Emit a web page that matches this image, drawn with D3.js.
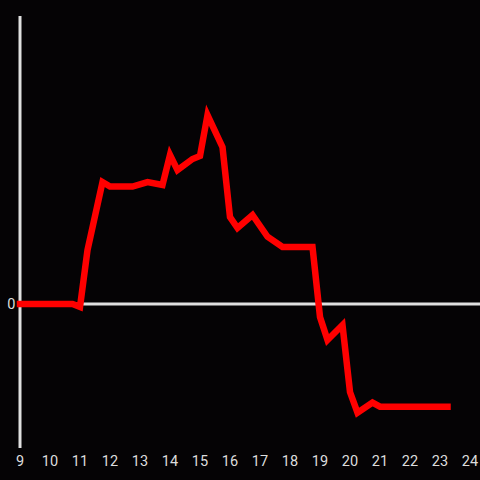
<!DOCTYPE html>
<html>
<head>
<meta charset="utf-8">
<script src="https://cdn.jsdelivr.net/npm/d3@7"></script>
<style>
  html, body { margin: 0; padding: 0; background: #050305; }
  svg { display: block; }
</style>
</head>
<body>
<div id="chart"></div>
<script>
// Data (hours of day vs. value)
const hours = [9, 10.75, 11, 11.25, 11.75, 12, 12.75, 13.25, 13.75, 14, 14.25, 14.75, 15, 15.25,
  15.75, 16, 16.25, 16.75, 17.25, 17.75, 18.75, 19, 19.25, 19.75, 20, 20.25, 20.75, 21, 23.25];
const values = [0, 0, -0.02, 0.375, 0.847, 0.816, 0.816, 0.847, 0.826, 1.035, 0.93, 1.007, 1.028, 1.3125,
  1.09, 0.604, 0.528, 0.618, 0.467, 0.396, 0.396, -0.09, -0.25, -0.146, -0.611, -0.755, -0.685, -0.713, -0.713];
const xTicks = [9, 10, 11, 12, 13, 14, 15, 16, 17, 18, 19, 20, 21, 22, 23, 24];
const yTicks = [0];

const width = 480, height = 480;
const axisColor = "#e0e0e0";
const lineColor = "#ff0000";

const svg = d3.select("#chart").append("svg")
  .attr("width", width)
  .attr("height", height);

svg.append("rect").attr("width", width).attr("height", height).attr("fill", "#050305");

const x = d3.scaleLinear().domain([9, 24]).range([20, 470]);
const y = d3.scaleLinear().domain([-1, 2]).range([448, 16]);

// zero line
svg.append("line")
  .attr("x1", x(9)).attr("x2", width)
  .attr("y1", y(0)).attr("y2", y(0))
  .attr("stroke", axisColor).attr("stroke-width", 3);

// y axis line
svg.append("line")
  .attr("x1", x(9)).attr("x2", x(9))
  .attr("y1", y(2)).attr("y2", y(-1))
  .attr("stroke", axisColor).attr("stroke-width", 3);

// x tick labels
svg.append("g")
  .selectAll("text").data(xTicks).enter().append("text")
  .attr("x", d => x(d))
  .attr("y", 466)
  .attr("text-anchor", "middle")
  .attr("font-family", "Roboto, 'Liberation Sans', sans-serif")
  .attr("font-size", "14.5px")
  .attr("fill", "#dddddd")
  .text(d => d);

// y tick labels
svg.append("g")
  .selectAll("text").data(yTicks).enter().append("text")
  .attr("x", 15.5)
  .attr("y", d => y(d) + 5)
  .attr("text-anchor", "end")
  .attr("font-family", "Roboto, 'Liberation Sans', sans-serif")
  .attr("font-size", "14.5px")
  .attr("fill", "#dddddd")
  .text(d => d);

// data line
const line = d3.line()
  .x((d, i) => x(hours[i]))
  .y(d => y(d));

svg.append("path")
  .datum(values)
  .attr("d", line)
  .attr("fill", "none")
  .attr("stroke", lineColor)
  .attr("stroke-width", 6.5)
  .attr("stroke-linejoin", "miter")
  .attr("stroke-linecap", "square");
</script>
</body>
</html>
